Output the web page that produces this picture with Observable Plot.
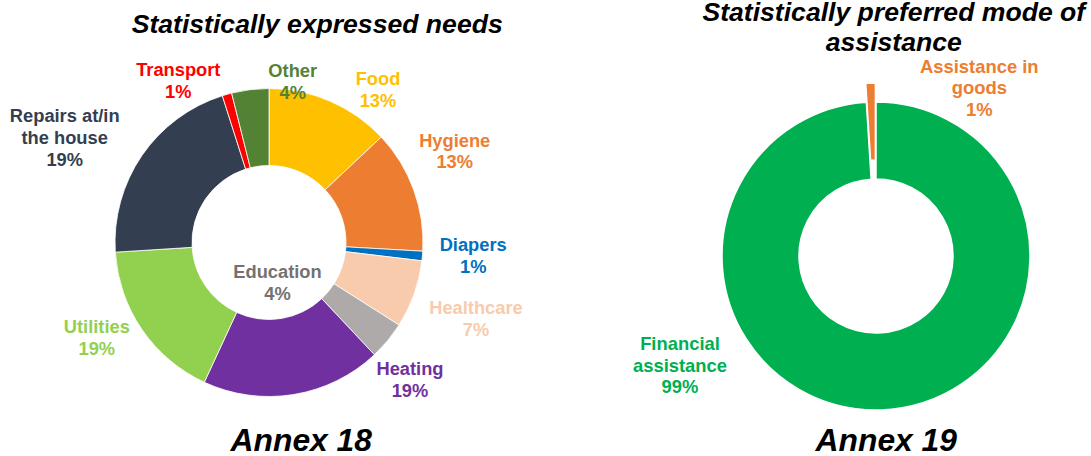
<!DOCTYPE html>
<html>
<head>
<meta charset="utf-8">
<script src="https://cdn.jsdelivr.net/npm/d3@7"></script>
<script src="https://cdn.jsdelivr.net/npm/@observablehq/plot@0.6"></script>
<style>
  html, body { margin: 0; padding: 0; background: #fff; }
  #chart svg { display: block; }
</style>
</head>
<body>
<div id="chart"></div>
<script>
// ---------- DATA ----------
// Annex 18: statistically expressed needs (clockwise from 12 o'clock)
const needsCategories = ["Food", "Hygiene", "Diapers", "Healthcare", "Education",
  "Heating", "Utilities", "Repairs at/in the house", "Transport", "Other"];
// arc shares
const needsShares = [13.0, 12.9, 1.0, 7.1, 4.0, 18.9, 17.1, 21.1, 1.0, 3.9];
// percentage labels as printed on the chart
const needsLabels = ["13%", "13%", "1%", "7%", "4%", "19%", "19%", "19%", "1%", "4%"];

// Annex 19: statistically preferred mode of assistance
const modeCategories = ["Financial assistance", "Assistance in goods"];
const modeShares = [99, 1];
const modeLabels = ["99%", "1%"];

// Titles / captions
const titles = ["Statistically expressed needs", "Statistically preferred mode of\nassistance"];
const captions = ["Annex 18", "Annex 19"];

// ---------- STYLE / LAYOUT ----------
const needsColors = ["#FFC000", "#ED7D31", "#0070C0", "#F8CBAD", "#AEAAAA",
  "#7030A0", "#92D050", "#333F50", "#FF0000", "#548235"];
const needsTextColors = ["#FFC000", "#ED7D31", "#0070C0", "#F8CBAD", "#767171",
  "#7030A0", "#92D050", "#333F50", "#FF0000", "#548235"];
const needsWrap = ["Food", "Hygiene", "Diapers", "Healthcare", "Education",
  "Heating", "Utilities", "Repairs at/in\nthe house", "Transport", "Other"];
const modeColors = ["#00B050", "#ED7D31"];
const modeWrap = ["Financial\nassistance", "Assistance in\ngoods"];

const W = 1091, H = 456;
const donutA = {cx: 269, cy: 242.5, r: 154, ir: 77};
const donutB = {cx: 876, cy: 256, r: 154, ir: 77};
// label block offsets from donut centre (px)
const needsLabelOffset = [[108.5, -153.7], [185.2, -92.5], [203.7, 12.3], [206.5, 74.8], [8, 38.8],
  [140.5, 136.1], [-172.7, 93.8], [-204.8, -105.8], [-91.2, -163.3], [23.2, -162.3]];
const modeLabelOffset = [[-196.5, 108.5], [102.8, -169]];
const modeExplode = [0, 19];

// ---------- BUILD ----------
function donut(spec, shares, colors, explode, strokeW) {
  return (index, scales, values, dimensions, context) => {
    const x0 = scales.x(spec.cx), y0 = scales.y(spec.cy);
    const rOut = scales.x(spec.cx + spec.r) - x0;
    const rIn = scales.x(spec.cx + spec.ir) - x0;
    const arcs = d3.pie().sort(null).value(d => d)(shares);
    const arc = d3.arc().innerRadius(rIn).outerRadius(rOut);
    const g = d3.create("svg:g").attr("transform", `translate(${x0},${y0})`);
    g.selectAll("path").data(arcs).join("path")
      .attr("d", arc)
      .attr("fill", (d, i) => colors[i])
      .attr("stroke", "#fff")
      .attr("stroke-width", strokeW)
      .attr("stroke-linejoin", "miter")
      .attr("transform", (d, i) => {
        const e = explode ? explode[i] : 0;
        const a = (d.startAngle + d.endAngle) / 2;
        return `translate(${e * Math.sin(a)},${-e * Math.cos(a)})`;
      });
    return g.node();
  };
}

const needsRows = needsCategories.map((c, i) => ({
  text: needsWrap[i] + "\n" + needsLabels[i],
  x: donutA.cx + needsLabelOffset[i][0],
  y: donutA.cy + needsLabelOffset[i][1],
  color: needsTextColors[i]
}));
const modeRows = modeCategories.map((c, i) => ({
  text: modeWrap[i] + "\n" + modeLabels[i],
  x: donutB.cx + modeLabelOffset[i][0],
  y: donutB.cy + modeLabelOffset[i][1],
  color: modeColors[i]
}));
const titleRows = [
  {text: titles[0], x: 316.7, y: 23.2},
  {text: titles[1], x: 893.3, y: 25.7}
];
const captionRows = [
  {text: captions[0], x: 300.8, y: 440},
  {text: captions[1], x: 885.8, y: 440.5}
];

const font = "'Liberation Sans', Arial, Helvetica, sans-serif";

const chart = Plot.plot({
  width: W,
  height: H,
  margin: 0,
  x: {domain: [0, W], range: [0, W], axis: null},
  y: {domain: [0, H], range: [0, H], axis: null},
  style: {fontFamily: font, background: "#fff", overflow: "visible"},
  marks: [
    donut(donutA, needsShares, needsColors, null, 0.8),
    donut(donutB, modeShares, modeColors, modeExplode, 1.5),
    Plot.text(needsRows, {x: "x", y: "y", text: "text", fill: "color",
      fontSize: 18.3, fontWeight: "bold", lineHeight: 1.19, lineAnchor: "middle", textAnchor: "middle"}),
    Plot.text(modeRows, {x: "x", y: "y", text: "text", fill: "color",
      fontSize: 18.4, fontWeight: "bold", lineHeight: 1.17, lineAnchor: "middle", textAnchor: "middle"}),
    Plot.text(titleRows, {x: "x", y: "y", text: "text", fill: "#000",
      fontSize: 26.6, fontWeight: "bold", fontStyle: "italic", lineHeight: 1.15,
      lineAnchor: "middle", textAnchor: "middle"}),
    Plot.text(captionRows, {x: "x", y: "y", text: "text", fill: "#000",
      fontSize: 31.8, fontWeight: "bold", fontStyle: "italic",
      lineAnchor: "middle", textAnchor: "middle"})
  ]
});
document.getElementById("chart").appendChild(chart);
</script>
</body>
</html>
